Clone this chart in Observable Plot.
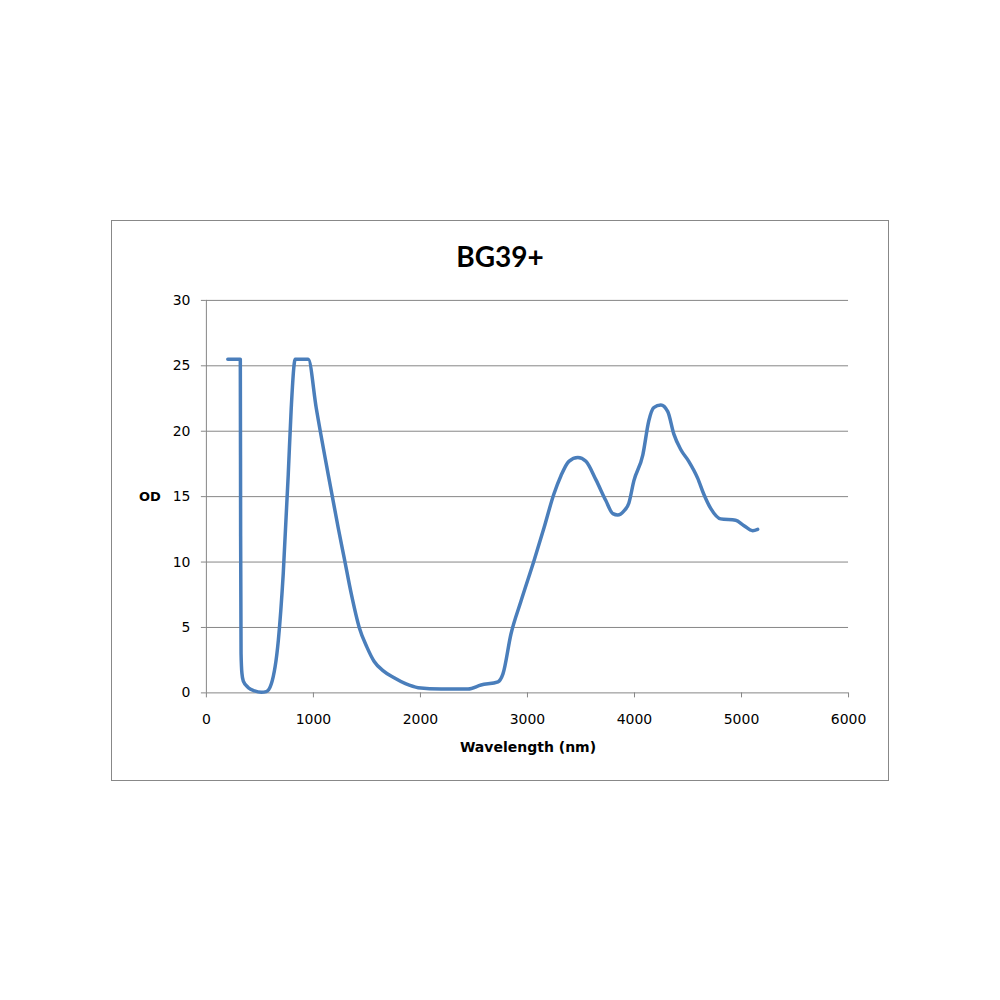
<!DOCTYPE html>
<html><head><meta charset="utf-8">
<script src="https://cdn.jsdelivr.net/npm/d3@7"></script>
<script src="https://cdn.jsdelivr.net/npm/@observablehq/plot@0.6"></script>
<style>
body{margin:0;background:#fff;}
#page{position:relative;width:1000px;height:1000px;font-family:"DejaVu Sans",sans-serif;}
#box{position:absolute;left:111px;top:220px;width:776px;height:559px;border:1px solid #888;}
#chart{position:absolute;left:0;top:0;}
.t{position:absolute;color:#000;font-weight:bold;white-space:nowrap;}
</style></head>
<body><div id="page"><div id="box">
<div id="chart"></div>
<div class="t" id="title" style="left:0;width:776px;text-align:center;top:18px;font-size:28px;font-family:Lato,sans-serif;">BG39+</div>
<div class="t" style="left:27px;top:268px;font-size:13px;">OD</div>
<div class="t" style="left:0;width:832px;text-align:center;top:518px;font-size:14px;">Wavelength (nm)</div>
</div></div>
<script>
const wavelength = [200,317,320,324,332,345,392,450,513,560,607,672,718,765,793,830,952,1026,1138,1232,1288,1353,1428,1500,1568,1650,1754,1860,1978,2193,2445,2566,2725,2771,2846,2939,3061,3154,3247,3313,3387,3471,3546,3639,3732,3798,3844,3900,3947,3994,4078,4134,4180,4246,4311,4367,4432,4507,4591,4647,4712,4805,4945,5020,5104,5151];
const od = [25.5,25.5,12,3,1.5,0.9,0.4,0.15,0.05,0.1,0.7,4,9.1,16.7,21.8,25.5,25.5,21.8,16.7,12.6,10.3,7.6,5.0,3.5,2.4,1.7,1.15,0.7,0.4,0.3,0.3,0.6,0.85,1.45,4.5,7.0,10.1,12.6,15.2,16.6,17.7,18.0,17.7,16.3,14.7,13.7,13.6,13.9,14.5,16.2,18.2,20.8,21.8,22.0,21.5,19.8,18.6,17.7,16.4,15.2,14.1,13.3,13.2,12.8,12.4,12.5];
const xTicks = [0,1000,2000,3000,4000,5000,6000];
const yTicks = [0,5,10,15,20,25,30];
const data = wavelength.map((w,i)=>({w, od: od[i]}));
const chart = Plot.plot({
  width: 777, height: 560,
  marginLeft: 94, marginRight: 40, marginTop: 79, marginBottom: 88,
  style: {fontFamily: "'DejaVu Sans', sans-serif", fontSize: "14px", color: "#000", background: "transparent"},
  x: {domain: [0,6000], label: null},
  y: {domain: [0,30], label: null},
  marks: [
    Plot.gridY(yTicks, {stroke: "#868686", strokeOpacity: 1}),
    Plot.ruleX([0], {stroke: "#868686"}),
    Plot.axisX({ticks: xTicks, tickSize: 5, tickPadding: 16, stroke: "#868686", color: "#000", label: null, tickFormat: d => String(d)}),
    Plot.axisY({ticks: yTicks, tickSize: 5, tickPadding: 11, stroke: "#868686", color: "#000", label: null}),
    Plot.line(data, {x: "w", y: "od", stroke: "#4a7ebb", strokeWidth: 3.5, curve: "monotone-x"})
  ]
});
document.getElementById("chart").appendChild(chart);
</script></body></html>
